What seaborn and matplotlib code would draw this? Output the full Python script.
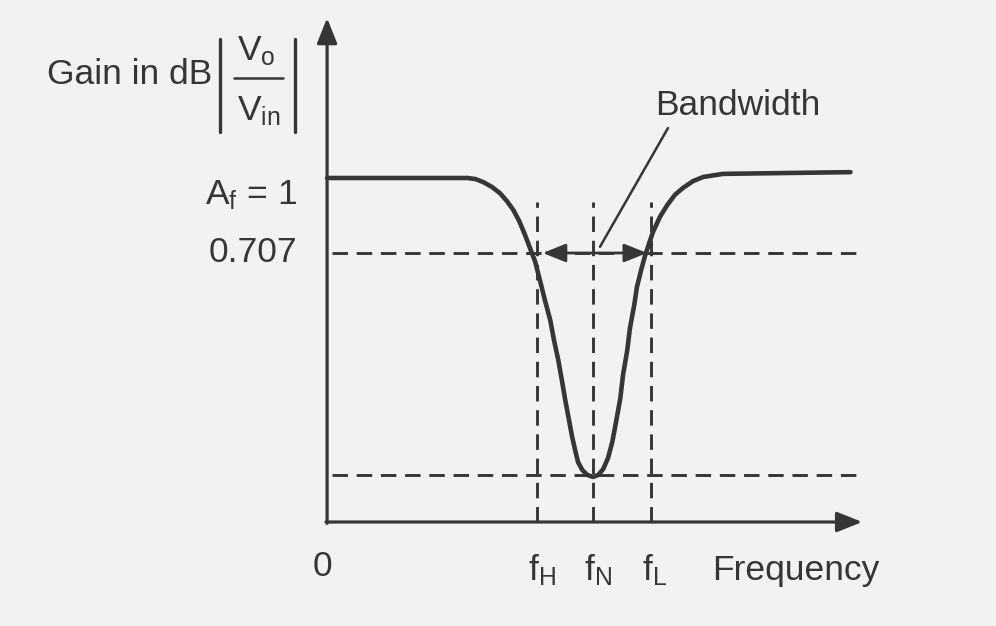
import numpy as np
import pandas as pd
import seaborn as sns
import matplotlib.pyplot as plt

# notch filter response (schematic)
freq = [0.0, 2.62, 2.77, 2.92, 3.08, 3.23, 3.36, 3.48, 3.59, 3.70, 3.79, 3.89, 3.98,
        4.07, 4.17, 4.24, 4.32, 4.39, 4.45, 4.52, 4.58, 4.64, 4.69, 4.77, 4.86, 4.97,
        5.07, 5.16, 5.25, 5.33, 5.40, 5.48, 5.53, 5.61, 5.66, 5.74, 5.79, 5.87, 5.94,
        6.02, 6.09, 6.22, 6.36, 6.50, 6.65, 6.84, 7.03, 7.40, 9.78]
gain = [1.0, 1.0, 0.997, 0.988, 0.974, 0.956, 0.933, 0.907, 0.875, 0.834, 0.797, 0.756, 0.701,
        0.645, 0.587, 0.529, 0.471, 0.410, 0.355, 0.297, 0.247, 0.206, 0.174, 0.151, 0.137, 0.131,
        0.137, 0.154, 0.186, 0.233, 0.291, 0.360, 0.427, 0.500, 0.564, 0.631, 0.683, 0.733, 0.773,
        0.811, 0.843, 0.887, 0.922, 0.951, 0.971, 0.991, 1.003, 1.012, 1.017]

# marker frequencies and levels
f_marks = [3.93, 4.97, 6.06]
f_labels = ["f$_\\mathrm{H}$", "f$_\\mathrm{N}$", "f$_\\mathrm{L}$"]
half_power = 0.782   # where the 0.707 line is drawn
notch_floor = 0.137

df = pd.DataFrame({"freq": freq, "gain": gain})

sns.set_theme(style="white")
plt.rcParams['font.family'] = ['Liberation Sans', 'DejaVu Sans']
plt.rcParams['mathtext.fontset'] = 'custom'
plt.rcParams['mathtext.rm'] = 'Liberation Sans'
plt.rcParams['mathtext.it'] = 'Liberation Sans'
plt.rcParams['mathtext.bf'] = 'Liberation Sans:bold'

ink = '#363636'
bg = '#f1f2f2'
fs = 25.5

fig = plt.figure(figsize=(9.96, 6.26), dpi=100, facecolor=bg)
ax = fig.add_axes([0, 0, 1, 1])
ax.set_facecolor(bg)
ax.set_xlim(-6.112, 12.50)
ax.set_ylim(-0.3023, 1.5174)
ax.set_axis_off()

dash = (0, (5.3, 3))

# dashed guide lines
ax.hlines([half_power, notch_floor], 0.1, 9.95, colors=ink, lw=2.1, linestyles=[dash])
ax.vlines(f_marks, 0.0, 0.93, colors=ink, lw=2.1, linestyles=[dash])

# response curve
sns.lineplot(data=df, x="freq", y="gain", ax=ax, sort=False, estimator=None,
             color=ink, linewidth=3.3, solid_joinstyle='round', solid_capstyle='round')

# axes with arrow heads
head = '-|>,head_length=0.55,head_width=0.22'
ax.annotate('', xy=(0, 1.465), xytext=(0, -0.004),
            arrowprops=dict(arrowstyle=head, mutation_scale=28, lw=2.3, color=ink,
                            shrinkA=0, shrinkB=0))
ax.annotate('', xy=(10.0, 0), xytext=(-0.02, 0),
            arrowprops=dict(arrowstyle=head, mutation_scale=28, lw=2.3, color=ink,
                            shrinkA=0, shrinkB=0))

# bandwidth double arrow and leader
small = '-|>,head_length=0.7,head_width=0.28'
ax.annotate('', xy=(f_marks[0] + 0.1, half_power), xytext=(f_marks[1], half_power),
            arrowprops=dict(arrowstyle=small, mutation_scale=20, lw=2.0, color=ink,
                            shrinkA=0, shrinkB=0))
ax.annotate('', xy=(f_marks[2] - 0.08, half_power), xytext=(f_marks[1], half_power),
            arrowprops=dict(arrowstyle=small, mutation_scale=20, lw=2.0, color=ink,
                            shrinkA=0, shrinkB=0))
ax.plot([5.10, 6.37], [0.80, 1.145], color=ink, lw=1.8)
ax.text(7.68, 1.212, "Bandwidth", fontsize=fs, color=ink, ha='center', va='center')

# y axis title: Gain in dB |Vo / Vin|
ax.text(-2.14, 1.30, "Gain in dB", fontsize=fs, color=ink, ha='right', va='center')
ax.plot([-2.0, -2.0], [1.135, 1.405], color=ink, lw=2.4)
ax.plot([-0.60, -0.60], [1.135, 1.405], color=ink, lw=2.4)
ax.plot([-1.74, -0.82], [1.29, 1.29], color=ink, lw=1.8)
ax.text(-1.32, 1.37, "V$_\\mathrm{o}$", fontsize=fs, color=ink, ha='center', va='center')
ax.text(-1.28, 1.195, "V$_\\mathrm{in}$", fontsize=fs, color=ink, ha='center', va='center')

# y level labels
ax.text(-0.56, 0.95, "A$_\\mathrm{f}$ = 1", fontsize=fs, color=ink, ha='right', va='center')
ax.text(-0.56, half_power, "0.707", fontsize=fs, color=ink, ha='right', va='center')

# x labels
ax.text(-0.09, -0.128, "0", fontsize=fs, color=ink, ha='center', va='center')
for fx, lab in zip(f_marks, f_labels):
    ax.text(fx - 0.17, -0.14, lab, fontsize=fs, color=ink, ha='left', va='center')
ax.text(7.2, -0.14, "Frequency", fontsize=fs, color=ink, ha='left', va='center')

fig.savefig('out.png', dpi=100, facecolor=bg)
